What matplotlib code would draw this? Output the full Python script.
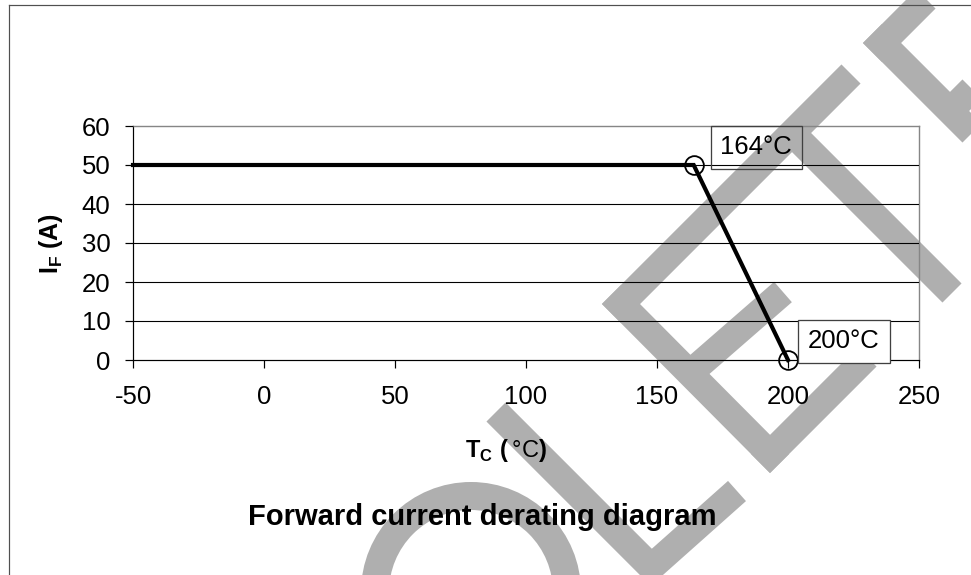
import matplotlib
matplotlib.use("Agg")
import matplotlib.pyplot as plt
from matplotlib.lines import Line2D
from matplotlib.patches import Circle
from matplotlib.transforms import Affine2D

# ---------------- data ----------------
tc_values = [-50, 164, 200]          # case temperature (°C)
if_values = [50, 50, 0]              # forward current (A)
marker_points = [1, 2]               # indices of points drawn with a circle marker
point_labels = ["164°C", "200°C"]
x_ticks = [-50, 0, 50, 100, 150, 200, 250]
y_ticks = [0, 10, 20, 30, 40, 50, 60]
title_text = "Forward current derating diagram"

# watermark ("OBSOLETE" fragments), pixel coordinates of stroke centre-lines
watermark_strokes = [
    [(496, 412), (666, 582)],          # L stem
    [(646, 572), (737, 491)],          # L foot
    [(611.5, 294.5), (779.5, 463.5)],  # E spine
    [(611.5, 313.5), (851, 74)],       # E top arm + T bar
    [(690, 373), (783, 292)],          # E middle arm
    [(760.5, 463.5), (867, 357)],      # E bottom arm
    [(792, 133), (952, 293)],          # T stem
    [(872.5, 33.5), (1022, 183)],      # E spine (last)
    [(872.5, 52.5), (1072, -147)],     # E top arm (last)
    [(950, 111), (1041, 20)],          # E middle arm (last)
]
watermark_ring = ((471, 592), 96)      # O fragment: centre, radius (px)

W, H, DPI = 971, 575, 100
plt.rcParams["font.family"] = ["Liberation Sans", "DejaVu Sans"]
plt.rcParams["mathtext.fontset"] = "custom"
plt.rcParams["mathtext.rm"] = "Liberation Sans"
plt.rcParams["mathtext.bf"] = "Liberation Sans:bold"
plt.rcParams["axes.unicode_minus"] = False

fig = plt.figure(figsize=(W / DPI, H / DPI), dpi=DPI, facecolor="white")
px = Affine2D().scale(1 / W, -1 / H).translate(0, 1) + fig.transFigure
PT = 72 / DPI  # points per pixel

wm_color = "#afafaf"
for (p1, p2) in watermark_strokes:
    fig.add_artist(Line2D([p1[0], p2[0]], [p1[1], p2[1]], transform=px,
                          color=wm_color, lw=27 * PT, solid_capstyle="butt",
                          zorder=-2))
(cx, cy), r = watermark_ring
fig.add_artist(Circle((cx, cy), r, transform=px, fill=False, ec=wm_color,
                      lw=28 * PT, zorder=-2))

# outer frame
fig.add_artist(Line2D([8.5, 8.5], [4.5, 600], transform=px, color="#505050",
                      lw=1.2 * PT, zorder=-1))
fig.add_artist(Line2D([8.5, 1000], [4.5, 4.5], transform=px, color="#505050",
                      lw=1.2 * PT, zorder=-1))

ax = fig.add_axes([133 / W, 1 - 360 / H, 786 / W, 234 / H])
ax.patch.set_alpha(0)
ax.set_xlim(-50, 250)
ax.set_ylim(0, 60)
ax.set_xticks(x_ticks)
ax.set_yticks(y_ticks)
ax.set_xticklabels([str(v) for v in x_ticks])
ax.set_yticklabels([str(v) for v in y_ticks])

for s in ["left", "bottom"]:
    ax.spines[s].set_color("black")
    ax.spines[s].set_linewidth(1.2 * PT)
for s in ["top", "right"]:
    ax.spines[s].set_color("#868686")
    ax.spines[s].set_linewidth(1.4 * PT)

ax.tick_params(axis="both", direction="out", length=8 * PT, width=1.2 * PT,
               color="black", labelsize=18.5, labelcolor="black")
ax.tick_params(axis="x", pad=12.5)
ax.tick_params(axis="y", pad=10.5)

ax.yaxis.grid(True, color="black", lw=1.1 * PT)
ax.set_axisbelow(False)
glines = ax.get_ygridlines()
glines[0].set_visible(False)
glines[-1].set_visible(False)

ax.plot(tc_values, if_values, color="black", lw=3.0, clip_on=False, zorder=3,
        solid_joinstyle="miter")
ax.plot([tc_values[i] for i in marker_points], [if_values[i] for i in marker_points],
        linestyle="none", marker="o", markersize=13.5, markerfacecolor="none",
        markeredgecolor="black", markeredgewidth=1.3, clip_on=False, zorder=4)

offsets = [(62.5, 17.5), (56, 18.5)]
faces = ["none", "white"]
for k, idx in enumerate(marker_points):
    ax.annotate(point_labels[k], xy=(tc_values[idx], if_values[idx]),
                xytext=offsets[k], textcoords="offset pixels",
                ha="center", va="center", fontsize=18.5, color="black",
                bbox=dict(boxstyle="square,pad=0.38", fc=faces[k], ec="#404040",
                          lw=1.3 * PT), zorder=5, annotation_clip=False)

# axis labels and title
fig.text(51 / W, 1 - 243.5 / H, r"$\mathbf{I}_{\mathbf{F}}$ (A)", rotation=90,
         ha="center", va="center", fontsize=18, fontweight="bold")
fig.text(506 / W, 1 - 450 / H,
         r"$\mathbf{T}_{\mathbf{C}}\ \mathbf{(}\,\mathrm{°C}\mathbf{)}$",
         ha="center", va="center", fontsize=17)
fig.text(482 / W, 1 - 517 / H, title_text, ha="center", va="center",
         fontsize=21, fontweight="bold")

fig.savefig("out.png", dpi=DPI, facecolor="white")
